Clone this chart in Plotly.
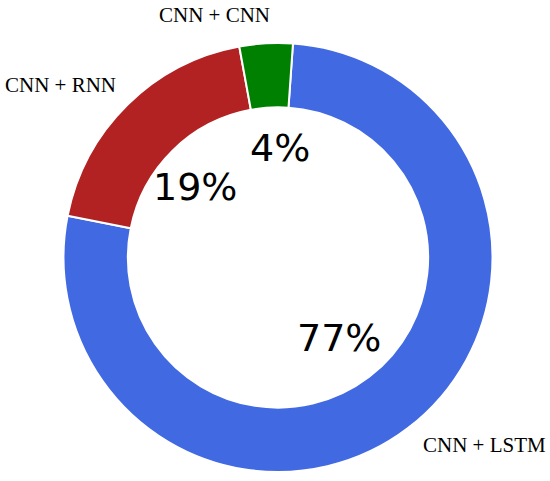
import math
import plotly.graph_objects as go

labels = ["CNN + LSTM", "CNN + RNN", "CNN + CNN"]
values = [77, 19, 4]
colors = ["#4169E1", "#B22222", "#008000"]

W, H = 550, 481
cx, cy = 278, 223.5   # pie centre in px (from left / from bottom)
R = 214.5
start_deg = 86        # math angle where first slice starts (clockwise)
pct_dist = 0.5
label_dist = 1.1
# small text placement nudges (px) to match the reference layout
pct_nudge = {"CNN + LSTM": (-4, 5), "CNN + RNN": (-8, -6), "CNN + CNN": (8, 2)}
lab_nudge = {"CNN + LSTM": (0, 0), "CNN + RNN": (6, 4), "CNN + CNN": (7, 7)}

fig = go.Figure(go.Pie(
    labels=labels, values=values, sort=False, direction="clockwise",
    rotation=90 - start_deg, hole=0.7, textinfo="none", hoverinfo="label+percent",
    marker=dict(colors=colors, line=dict(color="white", width=2)),
    domain=dict(x=[(cx - R) / W, (cx + R) / W], y=[(cy - R) / H, (cy + R) / H]),
    showlegend=False,
))

total = sum(values)
ang = start_deg
for lab, v in zip(labels, values):
    span = 360 * v / total
    mid = math.radians(ang - span / 2)
    ang -= span
    px = cx + pct_dist * R * math.cos(mid)
    py = cy + pct_dist * R * math.sin(mid)
    fig.add_annotation(x=px / W, y=py / H, xref="paper", yref="paper",
                       xshift=pct_nudge[lab][0], yshift=pct_nudge[lab][1],
                       text=f"{round(100 * v / total)}%", showarrow=False,
                       xanchor="center", yanchor="middle",
                       font=dict(family="DejaVu Sans", size=38, color="black"))
    lx = cx + label_dist * R * math.cos(mid)
    ly = cy + label_dist * R * math.sin(mid)
    fig.add_annotation(x=lx / W, y=ly / H, xref="paper", yref="paper",
                       xshift=lab_nudge[lab][0], yshift=lab_nudge[lab][1],
                       text=lab, showarrow=False,
                       xanchor="left" if math.cos(mid) > 0 else "right",
                       yanchor="middle",
                       font=dict(family="Liberation Serif", size=21, color="black"))

fig.update_layout(width=W, height=H, margin=dict(l=0, r=0, t=0, b=0),
                  paper_bgcolor="white", plot_bgcolor="white")
fig.write_html("out.html", config={"displayModeBar": False},
               post_script="document.body.style.margin='0';document.body.style.overflow='hidden';")
